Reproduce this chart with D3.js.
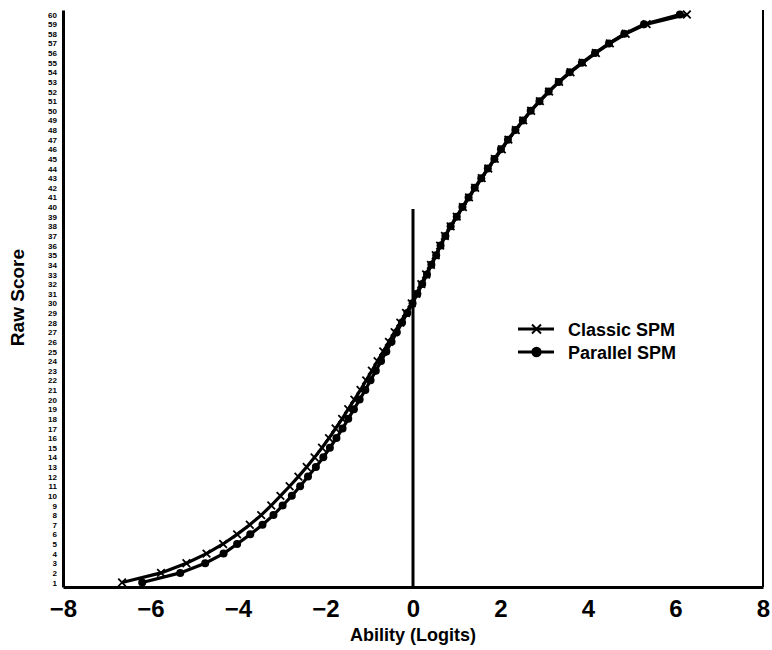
<!DOCTYPE html>
<html>
<head>
<meta charset="utf-8">
<script src="https://cdn.jsdelivr.net/npm/d3@7"></script>
<style>
  html, body { margin: 0; padding: 0; background: #fff; }
  svg { display: block; }
  text { font-family: "Liberation Sans", Arial, Helvetica, sans-serif; font-weight: bold; fill: #000; }
</style>
</head>
<body>
<svg id="chart" width="772" height="650"></svg>
<script>
// ---- data ----
const rawScores = [1,2,3,4,5,6,7,8,9,10,11,12,13,14,15,16,17,18,19,20,
  21,22,23,24,25,26,27,28,29,30,31,32,33,34,35,36,37,38,39,40,
  41,42,43,44,45,46,47,48,49,50,51,52,53,54,55,56,57,58,59,60];

const classicLogits = [-6.65,-5.76,-5.18,-4.72,-4.34,-4.02,-3.73,-3.47,-3.24,-3.03,
  -2.82,-2.62,-2.43,-2.25,-2.08,-1.92,-1.77,-1.62,-1.48,-1.34,
  -1.20,-1.07,-0.94,-0.81,-0.68,-0.55,-0.42,-0.29,-0.16,-0.03,
  0.08,0.19,0.30,0.41,0.52,0.62,0.73,0.86,1.00,1.14,
  1.28,1.42,1.57,1.72,1.87,2.03,2.18,2.35,2.52,2.70,
  2.90,3.11,3.34,3.60,3.88,4.18,4.50,4.86,5.34,6.26];

const parallelLogits = [-6.19,-5.32,-4.75,-4.33,-4.02,-3.72,-3.44,-3.19,-2.98,-2.77,
  -2.58,-2.40,-2.22,-2.05,-1.90,-1.75,-1.61,-1.48,-1.35,-1.22,
  -1.09,-0.97,-0.85,-0.73,-0.61,-0.49,-0.37,-0.25,-0.13,-0.01,
  0.10,0.21,0.32,0.42,0.53,0.63,0.74,0.86,1.00,1.13,
  1.27,1.41,1.56,1.71,1.86,2.01,2.17,2.34,2.51,2.69,
  2.89,3.10,3.33,3.58,3.86,4.16,4.48,4.83,5.28,6.10];

const xTicks = [-8,-6,-4,-2,0,2,4,6,8];
const yTicks = rawScores;
const seriesNames = ["Classic SPM", "Parallel SPM"];
const zeroLineTop = 39.8;   // raw score where the vertical reference line at 0 ends

// ---- layout ----
const svg = d3.select("#chart");
const x = d3.scaleLinear().domain([-8, 8]).range([63, 763]);
const y = d3.scaleLinear().domain([0.533, 60.47]).range([587, 10]);

// y axis (left)
const yAxis = svg.append("g")
  .attr("transform", `translate(${x(-8)},0)`)
  .call(d3.axisLeft(y).tickValues(yTicks).tickSize(0).tickPadding(6).tickFormat(d3.format("d")));
yAxis.select(".domain").attr("stroke", "#000").attr("stroke-width", 3);
yAxis.selectAll("text").style("font-size", "8px").style("font-weight", "bold")
  .style("font-family", "'Liberation Sans', Arial, sans-serif");

// x axis (bottom)
const xAxis = svg.append("g")
  .attr("transform", `translate(0,${y(0.533)})`)
  .call(d3.axisBottom(x).tickValues(xTicks).tickSize(0).tickPadding(13).tickFormat(d3.format("d")));
xAxis.select(".domain").attr("stroke", "#000").attr("stroke-width", 3);
xAxis.selectAll("text").style("font-size", "24px").style("font-weight", "bold")
  .style("font-family", "'Liberation Sans', Arial, sans-serif");

// right border
svg.append("line")
  .attr("x1", x(8)).attr("x2", x(8))
  .attr("y1", y(60.47)).attr("y2", y(0.533))
  .attr("stroke", "#000").attr("stroke-width", 2);

// vertical line at 0
svg.append("line")
  .attr("x1", x(0)).attr("x2", x(0))
  .attr("y1", y(zeroLineTop)).attr("y2", y(0.533))
  .attr("stroke", "#000").attr("stroke-width", 3);

// axis titles
svg.append("text")
  .attr("x", x(0)).attr("y", 641)
  .attr("text-anchor", "middle")
  .style("font-size", "18px")
  .text("Ability (Logits)");

svg.append("text")
  .attr("transform", `translate(24,${y(30.6)}) rotate(-90)`)
  .attr("text-anchor", "middle")
  .style("font-size", "19px")
  .text("Raw Score");

// series
const line = d3.line().x(d => x(d[0])).y(d => y(d[1]));
const classicData = rawScores.map((s, i) => [classicLogits[i], s]);
const parallelData = rawScores.map((s, i) => [parallelLogits[i], s]);

svg.append("path").datum(parallelData)
  .attr("d", line).attr("fill", "none").attr("stroke", "#000").attr("stroke-width", 3.2);
svg.append("path").datum(classicData)
  .attr("d", line).attr("fill", "none").attr("stroke", "#000").attr("stroke-width", 3.2);

function crossPath(cx, cy, r) {
  return `M${cx - r},${cy - r}L${cx + r},${cy + r}M${cx - r},${cy + r}L${cx + r},${cy - r}`;
}

svg.append("g").selectAll("circle").data(parallelData).join("circle")
  .attr("cx", d => x(d[0])).attr("cy", d => y(d[1])).attr("r", 4).attr("fill", "#000");

svg.append("g").selectAll("path").data(classicData).join("path")
  .attr("d", d => crossPath(x(d[0]), y(d[1]), 3.8))
  .attr("stroke", "#000").attr("stroke-width", 1.8).attr("fill", "none");

// legend
const lg = svg.append("g");
const legendRows = [{name: seriesNames[0], cy: 329, type: "cross"}, {name: seriesNames[1], cy: 352, type: "dot"}];
legendRows.forEach(r => {
  lg.append("line").attr("x1", 518).attr("x2", 554).attr("y1", r.cy).attr("y2", r.cy)
    .attr("stroke", "#000").attr("stroke-width", 3.2);
  if (r.type === "cross") {
    lg.append("path").attr("d", crossPath(536.5, r.cy, 4.5)).attr("stroke", "#000").attr("stroke-width", 2);
  } else {
    lg.append("circle").attr("cx", 536.5).attr("cy", r.cy).attr("r", 5.2).attr("fill", "#000");
  }
  lg.append("text").attr("x", 568).attr("y", r.cy + 6.5).style("font-size", "18px").text(r.name);
});
</script>
</body>
</html>
